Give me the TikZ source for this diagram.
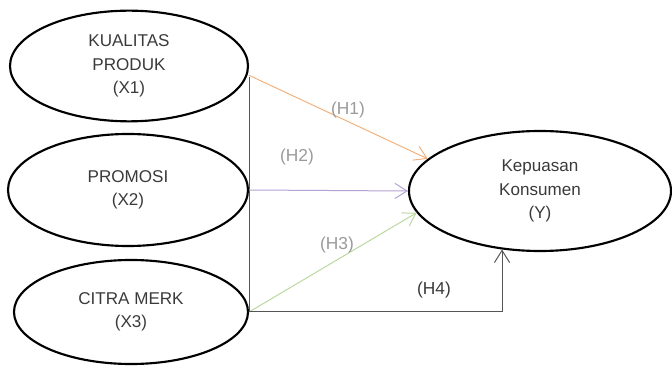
\documentclass[tikz,border=0pt]{standalone}
\usepackage{fontspec}
\setmainfont{Liberation Sans}
\usetikzlibrary{shapes.geometric, arrows.meta}
\definecolor{teks}{HTML}{3A3A3A}
\definecolor{garis}{HTML}{555555}
\definecolor{oranye}{HTML}{F2B27E}
\definecolor{ungu}{HTML}{B3A2D2}
\definecolor{hijau}{HTML}{BCD8A0}
\definecolor{abu}{HTML}{9A9A9A}
\begin{document}
\begin{tikzpicture}[x=0.75pt, y=-0.75pt,
		variabel/.style={ellipse, draw=black, line width=1.6pt, text=teks, align=center,
			font=\fontsize{12.8}{17.5}\selectfont},
		jalur/.style={-{Straight Barb[length=3.2mm, width=4mm]}, line width=0.75pt},
		hipotesis/.style={text=abu, font=\fontsize{13}{15}\selectfont}
		]
		\useasboundingbox (0,0) rectangle (672,367);
		
		% ---- VARIABEL ----
		\node[variabel, minimum width=178.5pt, minimum height=83pt] (x1) at (129,66) {KUALITAS\\PRODUK\\(X1)};
		\node[variabel, minimum width=180pt, minimum height=84pt] (x2) at (128,190) {PROMOSI\\(X2)};
		\node[variabel, minimum width=175.5pt, minimum height=78pt] (x3) at (131,312) {CITRA MERK\\(X3)};
		
		\node[variabel, minimum width=196.5pt, minimum height=90pt] (y) at (540,191) {Kepuasan\\Konsumen\\(Y)};
		
		% ---- JALUR ----
		\draw[garis, line width=0.75pt] ([yshift=-8pt]x1.east) -- (x3.east);
		\draw[jalur, oranye] ([yshift=-7pt]x1.east) -- (y.164);
		\draw[jalur, ungu] (x2.east) -- (y.west);
		\draw[jalur, hijau] (x3.east) -- (y.190);
		\draw[jalur, garis] (x3.east) -| (y.237);
		
		% ---- LABEL ----
		\node[hipotesis] (h1) at (348,110) {(H1)};
		\node[hipotesis] (h2) at (297,157) {(H2)};
		\node[hipotesis] (h3) at (337,245) {(H3)};
		\node[hipotesis, text=teks] (h4) at (434,290) {(H4)};
		
	\end{tikzpicture}
\end{document}
